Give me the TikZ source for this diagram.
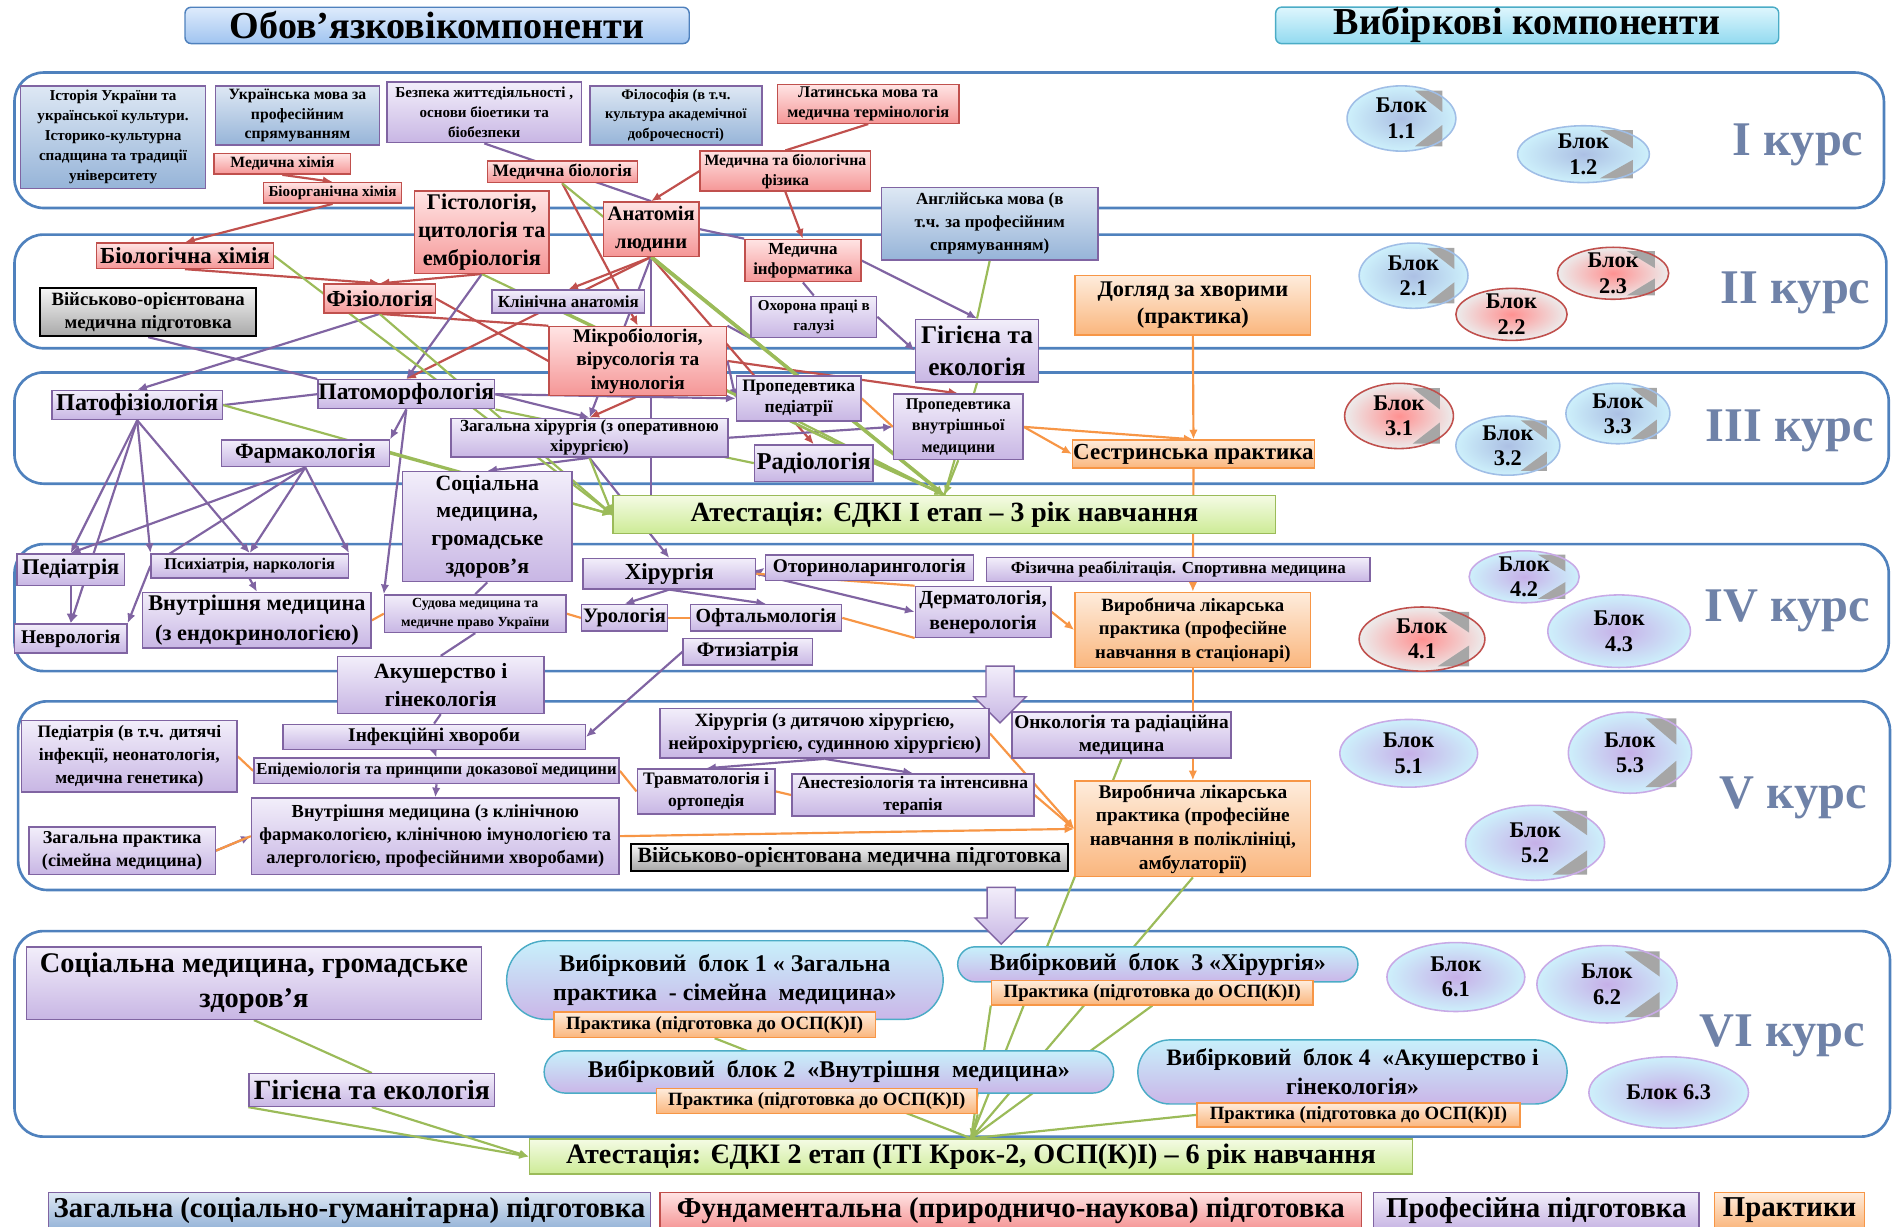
\documentclass[tikz,border=0pt]{standalone}
\usepackage{fontspec}
\setmainfont{Liberation Serif}
\usetikzlibrary{arrows.meta,shapes.geometric,shapes.misc,shapes.arrows,calc}
\definecolor{genTop}{RGB}{222,232,244}
\definecolor{genBot}{RGB}{150,180,216}
\definecolor{fundTop}{RGB}{255,228,228}
\definecolor{fundBot}{RGB}{245,150,150}
\definecolor{fundLine}{RGB}{192,80,77}
\definecolor{profTop}{RGB}{242,238,250}
\definecolor{profBot}{RGB}{200,182,228}
\definecolor{profLine}{RGB}{128,100,162}
\definecolor{pracTop}{RGB}{254,236,220}
\definecolor{pracBot}{RGB}{250,182,125}
\definecolor{pracLine}{RGB}{247,150,70}
\definecolor{atTop}{RGB}{244,251,228}
\definecolor{atBot}{RGB}{205,235,150}
\definecolor{atLine}{RGB}{155,187,89}
\definecolor{milTop}{RGB}{246,246,246}
\definecolor{milBot}{RGB}{168,168,168}
\definecolor{selTop}{RGB}{200,240,251}
\definecolor{selBot}{RGB}{202,182,232}
\definecolor{selLine}{RGB}{75,172,198}
\definecolor{titleTop}{RGB}{222,235,252}
\definecolor{titleBot}{RGB}{160,196,240}
\definecolor{titleLine}{RGB}{79,129,189}
\definecolor{cyanTop}{RGB}{222,246,253}
\definecolor{cyanBot}{RGB}{146,218,240}
\definecolor{panelLine}{RGB}{79,129,189}
\definecolor{kursGray}{RGB}{111,130,168}
\definecolor{blueIn}{RGB}{172,192,228}
\definecolor{blueOut}{RGB}{205,240,251}
\definecolor{blueRim}{RGB}{160,190,230}
\definecolor{redIn}{RGB}{255,145,145}
\definecolor{redOut}{RGB}{236,236,236}
\definecolor{purpIn}{RGB}{198,176,232}
\definecolor{purpOut}{RGB}{205,240,251}
\definecolor{purpRim}{RGB}{200,170,230}
\definecolor{redLink}{RGB}{192,80,77}
\definecolor{purpLink}{RGB}{128,100,162}
\definecolor{greenLink}{RGB}{155,187,89}
\definecolor{orangeLink}{RGB}{247,150,70}
\pgfdeclarelayer{panels}
\pgfdeclarelayer{links}
\pgfsetlayers{panels,links,main}
% block of the elective part: name, position, x radius, y radius, shading, rim, text
\newcommand{\blok}[7]{%
  \node[ellipse,inner sep=0pt,#5,minimum width=2*#3pt,minimum height=2*#4pt] (#1) at #2 {};
  \fill[gray!70] ($(#1)+(0.25*#3,-0.85*#4)$) -- ($(#1)+(0.75*#3,-0.85*#4)$) -- ($(#1)+(0.75*#3,-0.2*#4)$) -- cycle;
  \fill[gray!70] ($(#1)+(0.25*#3,0.85*#4)$) -- ($(#1)+(0.75*#3,0.85*#4)$) -- ($(#1)+(0.75*#3,0.2*#4)$) -- cycle;
  \draw[#6,line width=1.3pt] #2 ellipse [x radius=#3pt,y radius=#4pt];
  \node[font=\bfseries\fontsize{18.5}{21}\selectfont,align=center] at #2 {#7};
}
\newcommand{\blokplain}[7]{%
  \node[ellipse,inner sep=0pt,draw=#6,line width=1.3pt,#5,minimum width=2*#3pt,minimum height=2*#4pt] (#1) at #2 {};
  \node[font=\bfseries\fontsize{18.5}{21}\selectfont,align=center] at #2 {#7};
}

\begin{document}
\begin{tikzpicture}[x=1pt,y=-1pt,
  fs/.style 2 args={font=\bfseries\fontsize{#1}{#2}\selectfont},
  wh/.style 2 args={minimum width=#1pt,minimum height=#2pt},
  bx/.style={rectangle,draw,line width=1.2pt,inner sep=0.5pt,align=center},
  gen/.style={bx,top color=genTop,bottom color=genBot,draw=profLine},
  fund/.style={bx,top color=fundTop,bottom color=fundBot,draw=fundLine},
  prof/.style={bx,top color=profTop,bottom color=profBot,draw=profLine},
  prac/.style={bx,top color=pracTop,bottom color=pracBot,draw=pracLine},
  atest/.style={bx,top color=atTop,bottom color=atBot,draw=atLine},
  mil/.style={bx,top color=milTop,bottom color=milBot,draw=black,line width=1.6pt},
  sel/.style={rounded rectangle,draw=selLine,line width=1.2pt,top color=selTop,bottom color=selBot,align=center,inner sep=1pt},
  panel/.style={draw=panelLine,line width=2.2pt,rounded corners=24pt},
  kurs/.style={text=kursGray,font=\bfseries\fontsize{40}{44}\selectfont},
  blueblok/.style={inner color=blueIn,outer color=blueOut},
  redblok/.style={inner color=redIn,outer color=redOut},
  purpblok/.style={inner color=purpIn,outer color=purpOut},
  redline/.style={draw=redLink,line width=1.8pt},
  purpline/.style={draw=purpLink,line width=1.8pt},
  greenline/.style={draw=greenLink,line width=1.8pt},
  orangeline/.style={draw=orangeLink,line width=1.8pt},
  arr/.style={-{Latex[length=8pt,width=7pt]}},
  downarrow/.style={single arrow,shape border rotate=270,draw=profLine,line width=1.2pt,
    top color=profTop,bottom color=profBot,inner sep=11pt,single arrow head extend=10pt,minimum height=47pt}]
\useasboundingbox (0,0) rectangle (1568,1014);

% Headers
\node[bx,top color=titleTop,bottom color=titleBot,draw=titleLine,rounded corners=5pt,wh={417}{30},fs={31.5}{32}] (oblig) at (361.5,21) {Обов’язковікомпоненти};
\node[bx,top color=cyanTop,bottom color=cyanBot,draw=selLine,rounded corners=5pt,wh={416}{30},fs={31.5}{32}] (vybir) at (1263,21) {Вибіркові компоненти};

% Year panels
\begin{pgfonlayer}{panels}
\draw[panel] (12,60) rectangle (1558,172);
\draw[panel] (12,194) rectangle (1560,288);
\draw[panel] (12,308) rectangle (1562,400);
\draw[panel] (12,450) rectangle (1562,555);
\draw[panel] (15,580) rectangle (1563,736);
\draw[panel] (12,770) rectangle (1563,940);
\end{pgfonlayer}
\node[kurs] (k1) at (1487,120) {I курс};
\node[kurs] (k2) at (1485,242) {II курс};
\node[kurs] (k3) at (1480,356) {III курс};
\node[kurs] (k4) at (1478,505) {IV курс};
\node[kurs] (k5) at (1483,660) {V курс};
\node[kurs] (k6) at (1474,857) {VI курс};

% I курс
\node[gen,wh={153}{85},fs={12.5}{16.5}] (ist) at (93.5,113.5) {Історія України та\\української культури.\\Історико-культурна\\спадщина та традиції\\університету};
\node[gen,wh={136}{49},fs={13}{16}] (ukr) at (246,95.5) {Українська мова за\\професійним\\спрямуванням};
\node[prof,wh={161}{50},fs={12.5}{16.5}] (bezp) at (400.5,93) {Безпека життєдіяльності ,\\основи біоетики та\\біобезпеки};
\node[gen,wh={142}{49},fs={12}{16}] (fil) at (559,95.5) {Філософія (в т.ч.\\культура академічної\\доброчесності)};
\node[fund,wh={150}{32},fs={13.5}{16}] (lat) at (718,86) {Латинська мова та\\медична термінологія};
\node[fund,wh={113}{17},fs={13}{13}] (medchem) at (233.5,135.5) {Медична хімія};
\node[fund,wh={114}{17},fs={12.5}{13}] (bioorg) at (275,159.5) {Біоорганічна хімія};
\node[fund,wh={124}{18},fs={14.5}{15}] (medbio) at (465,142) {Медична біологія};
\node[fund,wh={141}{33},fs={13}{16.5}] (fiz) at (649.5,141.5) {Медична та біологічна\\фізика};
\node[fund,wh={111}{68},fs={18.5}{23}] (hist) at (398.5,192) {Гістологія,\\цитологія та\\ембріологія};
\node[fund,wh={79}{45},fs={17}{23}] (anat) at (538.5,189.5) {Анатомія\\людини};
\node[gen,wh={179}{60},fs={14}{19}] (engl) at (818.5,185) {Англійська мова (в\\т.ч. за професійним\\спрямуванням)};
\node[fund,wh={96}{35},fs={14}{16.5}] (medinf) at (664,215.5) {Медична\\інформатика};

% II курс
\node[fund,wh={146}{21},fs={19}{20}] (biochem) at (153,211.5) {Біологічна хімія};
\node[mil,wh={179}{40},fs={15.5}{19.5}] (voen1) at (122.5,258) {Військово-орієнтована\\медична підготовка};
\node[fund,wh={92}{24},fs={19}{20}] (fiziol) at (314,247) {Фізіологія};
\node[prof,wh={126}{19},fs={14}{15}] (klinan) at (470,249.5) {Клінічна анатомія};
\node[prof,wh={104}{34},fs={12.5}{16.5}] (ohor) at (673,262) {Охорона праці в\\галузі};
\node[fund,wh={147}{57},fs={16}{19.3}] (mikro) at (527.5,298.5) {Мікробіологія,\\вірусологія та\\імунологія};
\node[prof,wh={102}{52},fs={21}{26}] (gig) at (808,290) {Гігієна та\\екологія};
\node[prac,wh={195}{49},fs={18.5}{22}] (dogl) at (986.5,252.5) {Догляд за хворими\\(практика)};

% III курс
\node[prof,wh={141}{24},fs={20}{21}] (patofiz) at (113.5,335) {Патофізіологія};
\node[prof,wh={142}{24},fs={19.5}{21}] (patomorf) at (336,326) {Патоморфологія};
\node[prof,wh={103}{37},fs={14.5}{17.5}] (propped) at (660.5,329.5) {Пропедевтика\\педіатрії};
\node[prof,wh={107}{54},fs={13.5}{18}] (propvn) at (792.5,353) {Пропедевтика\\внутрішньої\\медицини};
\node[prof,wh={229}{32},fs={14}{16.5}] (zagh) at (487.5,362) {Загальна хірургія (з оперативною\\хірургією)};
\node[prof,wh={139}{22},fs={18}{19}] (farm) at (252.5,375) {Фармакологія};
\node[prof,wh={98}{30},fs={20}{21}] (radio) at (673,383) {Радіологія};
\node[prac,wh={196}{23},fs={19}{20}] (sestr) at (987,375.5) {Сестринська практика};
\node[prof,wh={140}{91},fs={18}{23}] (socmed) at (403,435.5) {Соціальна\\медицина,\\громадське\\здоров’я};
\node[atest,wh={548}{31},fs={23}{24}] (atest1) at (781,425.5) {Атестація: ЄДКІ І етап – 3 рік навчання};

% IV курс
\node[prof,wh={89}{26},fs={18.5}{19}] (ped) at (58.5,471) {Педіатрія};
\node[prof,wh={163}{20},fs={13.5}{14}] (psych) at (206.5,468) {Психіатрія, наркологія};
\node[prof,wh={189}{46},fs={18.5}{25}] (vnutr) at (212.5,513) {Внутрішня медицина\\(з ендокринологією)};
\node[prof,wh={93}{24},fs={16}{17}] (nevr) at (58.5,528) {Неврологія};
\node[prof,wh={150}{31},fs={11.5}{16}] (sud) at (393,507.5) {Судова медицина та\\медичне право України};
\node[prof,wh={143}{25},fs={19}{20}] (hir) at (553.5,474.5) {Хірургія};
\node[prof,wh={172}{21},fs={16}{17}] (otor) at (719,469.5) {Оториноларингологія};
\node[prof,wh={317}{20},fs={14}{15}] (fizreab) at (974.5,471) {Фізична реабілітація. Спортивна медицина};
\node[prof,wh={71}{22},fs={17}{18}] (urol) at (516.5,511) {Урологія};
\node[prof,wh={125}{22},fs={16.5}{17}] (oft) at (633.5,511) {Офтальмологія};
\node[prof,wh={112}{42},fs={16.5}{20.5}] (derm) at (813,506) {Дерматологія,\\венерологія};
\node[prac,wh={195}{62},fs={15.5}{19.3}] (vyr1) at (986.5,521) {Виробнича лікарська\\практика (професійне\\навчання в стаціонарі)};
\node[prof,wh={107}{22},fs={17}{18}] (ftiz) at (618.5,539) {Фтизіатрія};
\node[prof,wh={171}{47},fs={18}{23}] (akush) at (364.5,566.5) {Акушерство і\\гінекологія};
\node[downarrow] (darr1) at (827,568.5) {};

% V курс
\node[prof,wh={178}{59},fs={14.5}{19.3}] (ped2) at (107,625.5) {Педіатрія (в т.ч. дитячі\\інфекції, неонатологія,\\медична генетика)};
\node[prof,wh={250}{21},fs={16}{17}] (infek) at (359,609.5) {Інфекційні хвороби};
\node[prof,wh={302}{21},fs={13.8}{14}] (epid) at (361,637.5) {Епідеміологія та принципи доказової медицини};
\node[prof,wh={304}{63},fs={15.2}{19.3}] (vnutr2) at (360,691.5) {Внутрішня медицина (з клінічною\\фармакологією, клінічною імунологією та\\алергологією, професійними хворобами)};
\node[prof,wh={154}{39},fs={15}{19.3}] (zagprak) at (101,703.5) {Загальна практика\\(сімейна медицина)};
\node[prof,wh={272}{41},fs={15.5}{19.3}] (hir2) at (682,606.5) {Хірургія (з дитячою хірургією,\\нейрохірургією, судинною хірургією)};
\node[prof,wh={181}{38},fs={16}{19}] (onko) at (927.5,608) {Онкологія та радіаційна\\медицина};
\node[prof,wh={114}{37},fs={14.5}{18}] (travm) at (584,654.5) {Травматологія і\\ортопедія};
\node[prof,wh={200}{35},fs={14.5}{18}] (anest) at (755,657.5) {Анестезіологія та інтенсивна\\терапія};
\node[prac,wh={195}{79},fs={16}{19.6}] (vyr2) at (986.5,685.5) {Виробнича лікарська\\практика (професійне\\навчання в поліклініці,\\амбулаторії)};
\node[mil,wh={361}{22},fs={18}{19}] (voen2) at (702.5,709) {Військово-орієнтована медична підготовка};
\node[downarrow] (darr2) at (828,751.5) {};

% VI курс
\node[prof,wh={376}{60},fs={23.5}{29}] (socmed2) at (210,813) {Соціальна медицина, громадське\\здоров’я};
\node[prof,wh={203}{27},fs={23}{24}] (gig2) at (307.5,901.5) {Гігієна та екологія};
\node[sel,wh={363}{65},fs={19.8}{24}] (vb1) at (599.5,810.5) {Вибірковий \ блок 1 « Загальна\\практика \ - сімейна \ медицина»};
\node[prac,wh={266}{21},fs={15.5}{16}] (pr1) at (591,847.5) {Практика (підготовка до ОСП(К)І)};
\node[sel,wh={333}{29},fs={19.8}{20}] (vb3) at (957.5,797.5) {Вибірковий \ блок \ 3 «Хірургія»};
\node[prac,wh={266}{20},fs={15.5}{16}] (pr3) at (953,821) {Практика (підготовка до ОСП(К)І)};
\node[sel,wh={473}{35},fs={19.8}{20}] (vb2) at (685.5,886.5) {Вибірковий \ блок 2 \ «Внутрішня \ медицина»};
\node[prac,wh={265}{21},fs={15.5}{16}] (pr2) at (675.5,910.5) {Практика (підготовка до ОСП(К)І)};
\node[sel,wh={357}{53},fs={19.5}{24}] (vb4) at (1118.5,886.5) {Вибірковий \ блок 4 \ «Акушерство і\\гінекологія»};
\node[prac,wh={267}{20},fs={15.5}{16}] (pr4) at (1123.5,922) {Практика (підготовка до ОСП(К)І)};
\node[atest,wh={730}{29},fs={23.3}{24}] (atest2) at (803,956.5) {Атестація: ЄДКІ 2 етап (ІТІ Крок-2, ОСП(К)І) – 6 рік навчання};

% Legend
\node[gen,wh={498}{30},fs={23.8}{24}] (lgen) at (289,1001) {Загальна (соціально-гуманітарна) підготовка};
\node[fund,wh={580}{30},fs={23.8}{24}] (lfund) at (836,1001) {Фундаментальна (природничо-наукова) підготовка};
\node[prof,wh={269}{30},fs={23.8}{24}] (lprof) at (1270.5,1001) {Професійна підготовка};
\node[prac,wh={124}{30},fs={23.8}{24}] (lprac) at (1480,1001) {Практики};

% Elective blocks
\blok{b11}{(1159,98)}{45}{27}{blueblok}{blueRim}{Блок\\1.1}
\blok{b12}{(1309.5,127.5)}{54.5}{23.5}{blueblok}{blueRim}{Блок\\1.2}
\blok{b21}{(1169,228)}{45}{27}{blueblok}{blueRim}{Блок\\2.1}
\blok{b23}{(1334,226)}{46}{21.5}{redblok}{fundLine}{Блок\\2.3}
\blokplain{b22}{(1250,260)}{46}{21.5}{redblok}{fundLine}{Блок\\2.2}
\blok{b31}{(1157,344)}{45}{27}{redblok}{fundLine}{Блок\\3.1}
\blok{b32}{(1247,368.5)}{43}{24.5}{blueblok}{blueRim}{Блок\\3.2}
\blok{b33}{(1338,342)}{43}{25}{blueblok}{blueRim}{Блок\\3.3}
\blok{b42}{(1260.5,477)}{45.5}{21.5}{purpblok}{purpRim}{Блок\\4.2}
\blok{b41}{(1176,528.5)}{52}{26.5}{redblok}{fundLine}{Блок\\4.1}
\blokplain{b43}{(1339,522)}{59}{30}{purpblok}{purpRim}{Блок\\4.3}
\blokplain{b51}{(1165,623)}{57}{28}{purpblok}{purpRim}{Блок\\5.1}
\blok{b53}{(1348,622.5)}{51}{33.5}{purpblok}{purpRim}{Блок\\5.3}
\blok{b52}{(1269.5,697)}{57.5}{31}{purpblok}{purpRim}{Блок\\5.2}
\blokplain{b61}{(1204,808)}{57}{28.5}{purpblok}{purpRim}{Блок\\6.1}
\blok{b62}{(1329,814)}{58}{32}{purpblok}{purpRim}{Блок\\6.2}
\blokplain{b63}{(1380,903.5)}{66}{29.5}{purpblok}{purpRim}{Блок 6.3}

% Connections
\begin{pgfonlayer}{links}
% fundamental
\draw[redline,arr] (medchem.south) -- (bioorg.north);
\draw[redline,arr] (bioorg.south) -- (biochem.north);
\draw[redline,arr] (biochem.south) -- (fiziol.north);
\draw[redline,arr] (hist.south) -- (fiziol.north);
\draw[redline,arr] (medbio.south) -- (mikro.north);
\draw[redline,arr] (fiz.west) -- (anat.north);
\draw[redline] (lat.south) -- (fiz.north);
\draw[redline,arr] (fiz.south) -- (medinf.north);
\draw[redline,arr] (anat.south) -- (klinan.north);
\draw[redline,arr] (anat.south) -- (patomorf.north);
\draw[redline,arr] (anat.south) -- (radio.north);
\draw[redline] (fiziol.east) -- (mikro.west);
\draw[redline] (fiziol.south) -- (mikro.north west);
\draw[redline,arr] (mikro.south) -- (zagh.north);
\draw[redline,arr] (mikro.east) -- (propvn.north);
% professional
\draw[purpline] (bezp.south) -- (anat.north);
\draw[purpline] (anat.east) -- (medinf.north west);
\draw[purpline,arr] (medinf.east) -- (gig.north);
\draw[purpline] (medinf.south) -- (ohor.north);
\draw[purpline,arr] (ohor.east) -- (gig.west);
\draw[purpline] (ohor.south west) -- (mikro.north east);
\draw[purpline,arr] (hist.south) -- (patomorf.north);
\draw[purpline,arr] (fiziol.south) -- (patofiz.north);
\draw[purpline] (voen1.south) -- (patomorf.north west);
\draw[purpline,arr] (anat.south) -- (zagh.north);
\draw[purpline] (anat.south) -- (anat.south |- atest1.north);
\draw[purpline] (patofiz.east) -- (patomorf.west);
\draw[purpline,arr] (patomorf.east) -- (propped.west);
\draw[purpline,arr] (mikro.east) -- (propped.west);
\draw[purpline,arr] (zagh.east) -- (propvn.west);
\draw[purpline,arr] (patomorf.east) -- (zagh.north);
\draw[purpline,arr] (patofiz.south) -- (ped.north);
\draw[purpline,arr] (patofiz.south) -- (nevr.north);
\draw[purpline,arr] (patofiz.south) -- (psych.north);
\draw[purpline,arr] (patofiz.south) -- (psych.north west);
\draw[purpline,arr] (farm.south) -- (ped.north);
\draw[purpline,arr] (farm.south) -- (psych.north);
\draw[purpline,arr] (farm.south) -- (psych.north east);
\draw[purpline] (farm.south) -- (psych.west);
\draw[purpline,arr] (psych.west) -- (nevr.north east);
\draw[purpline,arr] (psych.south) -- (vnutr.north);
\draw[purpline,arr] (ped.south) -- (nevr.north);
\draw[purpline,arr] (patomorf.south) -- (farm.north east);
\draw[purpline,arr] (patomorf.south) -- (sud.north west);
\draw[purpline,arr] (zagh.south) -- (socmed.north);
\draw[purpline,arr] (zagh.south) -- (hir.north);
\draw[purpline,arr] (hir.east) -- (otor.west);
\draw[purpline,arr] (hir.south) -- (urol.north);
\draw[purpline,arr] (hir.south) -- (oft.north);
\draw[purpline,arr] (hir.east) -- (derm.west);
\draw[purpline] (socmed.south) -- (sud.north);
\draw[purpline] (sud.south) -- (akush.north);
\draw[purpline] (akush.south) -- (infek.north);
\draw[purpline,arr] (infek.south) -- (epid.north);
\draw[purpline,arr] (epid.south) -- (vnutr2.north);
\draw[purpline,arr] (ftiz.west) -- (infek.east);
\draw[purpline,arr] (hir2.south) -- (travm.north);
\draw[purpline,arr] (hir2.south) -- (anest.north);
\draw[purpline,arr] (zagprak.east) -- (vnutr2.west);
% attestation 1
\draw[greenline] (biochem.east) -- (atest1.west);
\draw[greenline] (fiziol.south) -- (atest1.west);
\draw[greenline,arr] (hist.south) -- (atest1.north);
\draw[greenline] (medbio.south) -- (atest1.north);
\draw[greenline,arr,line width=3pt] (anat.south) -- (atest1.north);
\draw[greenline] (klinan.south) -- (atest1.north);
\draw[greenline,arr] (propped.south) -- (atest1.north);
\draw[greenline,arr] (radio.east) -- (atest1.north);
\draw[greenline,arr] (propvn.south) -- (atest1.north);
\draw[greenline] (engl.south) -- (gig.north);
\draw[greenline] (gig.south) -- (atest1.north);
\draw[greenline,arr] (patofiz.east) -- (atest1.west);
\draw[greenline,arr] (farm.east) -- (atest1.west);
\draw[greenline] (patomorf.south east) -- (radio.west);
\draw[greenline,arr] (zagh.south) -- (atest1.west);
% practice
\draw[orangeline,arr] (dogl.south) -- (sestr.north);
\draw[orangeline,arr] (sestr.south) -- (vyr1.north);
\draw[orangeline,arr] (vyr1.south) -- (vyr2.north);
\draw[orangeline] (propped.east) -- (propvn.west);
\draw[orangeline,arr] (propvn.east) -- (sestr.north);
\draw[orangeline,arr] (propvn.east) -- (sestr.west);
\draw[orangeline] (vnutr.east) -- (sud.west);
\draw[orangeline] (sud.east) -- (urol.west);
\draw[orangeline] (urol.east) -- (oft.west);
\draw[orangeline] (oft.east) -- (derm.south west);
\draw[orangeline,arr] (derm.east) -- (vyr1.west);
\draw[orangeline] (hir.east) -- (derm.north west);
\draw[orangeline] (ped2.east) -- (epid.west);
\draw[orangeline] (epid.east) -- (travm.west);
\draw[orangeline] (travm.east) -- (anest.west);
\draw[orangeline,arr] (anest.east) -- (vyr2.west);
\draw[orangeline,arr] (hir2.east) -- (vyr2.west);
\draw[orangeline,arr] (vnutr2.east) -- (vyr2.west);
\draw[orangeline] (zagprak.east) -- (vnutr2.west);
% attestation 2
\draw[greenline] (onko.south) -- (atest2.north);
\draw[greenline] (vyr2.south) -- (atest2.north);
\draw[greenline] (pr3.south) -- (atest2.north);
\draw[greenline] (pr3.south west) -- (atest2.north);
\draw[greenline] (pr1.south) -- (atest2.north);
\draw[greenline,arr] (pr2.south east) -- (atest2.north);
\draw[greenline] (pr4.west) -- (atest2.north);
\draw[greenline] (socmed2.south) -- (gig2.north);
\draw[greenline,arr] (gig2.south) -- (atest2.west);
\draw[greenline,arr] (gig2.south west) -- (atest2.west);
\end{pgfonlayer}
\end{tikzpicture}
\end{document}
